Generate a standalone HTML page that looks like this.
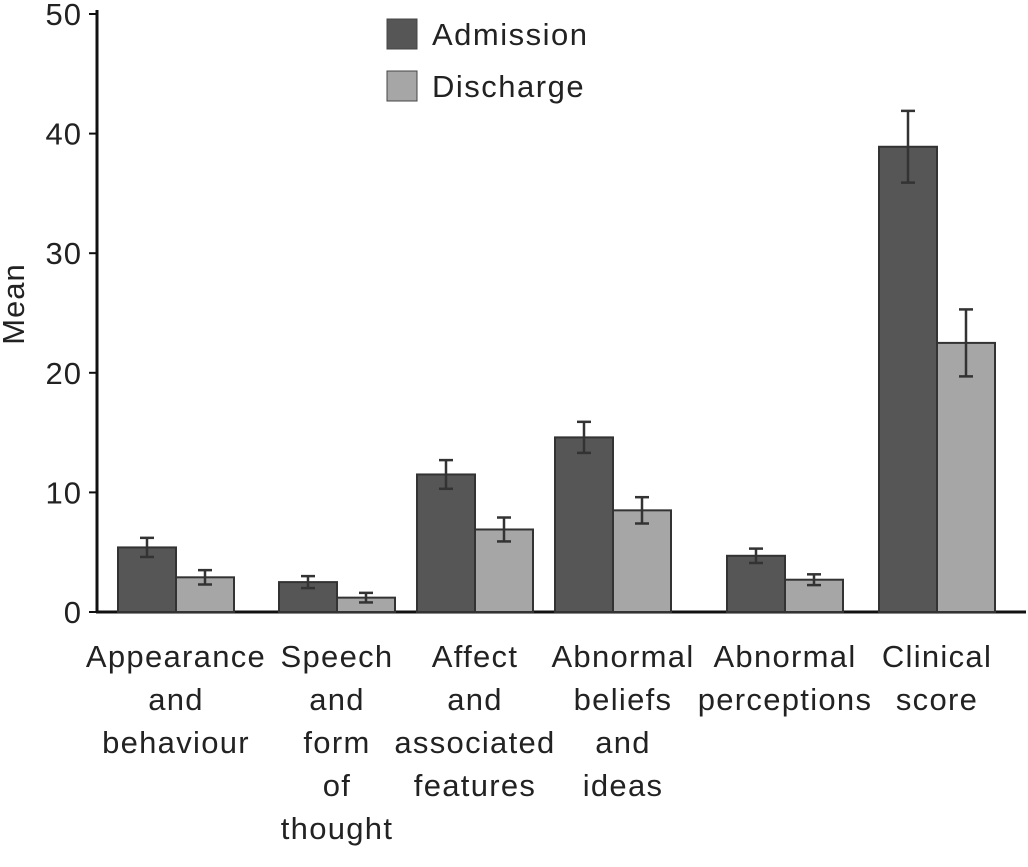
<!DOCTYPE html>
<html><head><meta charset="utf-8"><style>
body{margin:0;background:#fff;}
svg text{font-family:"Liberation Sans",sans-serif;fill:#222;}
</style></head><body>
<svg id="chart" width="1028" height="862" xmlns="http://www.w3.org/2000/svg"></svg>
<script>
const categories=[["Appearance","and","behaviour"],["Speech","and","form","of","thought"],["Affect","and","associated","features"],["Abnormal","beliefs","and","ideas"],["Abnormal","perceptions"],["Clinical","score"]];
const admission=[5.4,2.5,11.5,14.6,4.7,38.9];
const discharge=[2.9,1.2,6.9,8.5,2.7,22.5];
const admissionErr=[0.8,0.5,1.2,1.3,0.6,3.0];
const dischargeErr=[0.6,0.4,1.0,1.1,0.45,2.8];
const yTicks=[0,10,20,30,40,50];
const groupCenters=[176,337,475,613,785,937]; // layout
const NS="http://www.w3.org/2000/svg";
const svg=document.getElementById('chart');
const y0=612,yTop=14,ymax=50;
function y(v){return y0-(v/ymax)*(y0-yTop);}
const bw=58;
function mk(tag,attrs,parent){const e=document.createElementNS(NS,tag);for(const k in attrs)e.setAttribute(k,attrs[k]);(parent||svg).appendChild(e);return e;}
let ax=mk('line',{x1:97,y1:10,x2:97,y2:613,stroke:'#111','stroke-width':3});


ax=mk('line',{x1:96,y1:612,x2:1026,y2:612,stroke:'#111','stroke-width':3});


yTicks.forEach(t=>{
 const l=mk('line',{x1:89,y1:y(t),x2:97,y2:y(t),stroke:'#111','stroke-width':2});
 
 
 const tx=mk('text',{x:82,y:y(t)+11,'text-anchor':'end','font-size':31,'letter-spacing':1});
 tx.textContent=t;
 
 
});
const yt=mk('text',{x:0,y:0,'font-size':31,'letter-spacing':1,transform:'translate(24,304) rotate(-90)','text-anchor':'middle'});
yt.textContent='Mean';


function bar(x,v,e,fill,name){
 const r=mk('rect',{x:x,y:y(v),width:bw,height:y0-y(v),fill:fill,stroke:'#333','stroke-width':2});
 
 
 const cx=x+bw/2;
 const g=mk('g',{stroke:'#333','stroke-width':2.5});
 
 
 mk('line',{x1:cx,y1:y(v+e),x2:cx,y2:y(v-e)},g);
 mk('line',{x1:cx-7,y1:y(v+e),x2:cx+7,y2:y(v+e)},g);
 mk('line',{x1:cx-7,y1:y(v-e),x2:cx+7,y2:y(v-e)},g);
}
categories.forEach((c,i)=>{
 const cx=groupCenters[i];
 bar(cx-bw,admission[i],admissionErr[i],'#565656','bar-admission-'+i);
 bar(cx,discharge[i],dischargeErr[i],'#a6a6a6','bar-discharge-'+i);
 c.forEach((w,j)=>{
  const t=mk('text',{x:cx+(i==3?10:0),y:667+j*43,'text-anchor':'middle','font-size':31,'letter-spacing':1.3});
  t.textContent=w;
  
  
 });
});
[['Admission','#565656',19],['Discharge','#a6a6a6',71]].forEach(([n,f,yy])=>{
 const r=mk('rect',{x:387,y:yy,width:30,height:30,fill:f,stroke:'#444','stroke-width':1});
 
 
 const t=mk('text',{x:432,y:yy+26,'font-size':31,'letter-spacing':1.5});
 t.textContent=n;
 
 
});
</script>
</body></html>
